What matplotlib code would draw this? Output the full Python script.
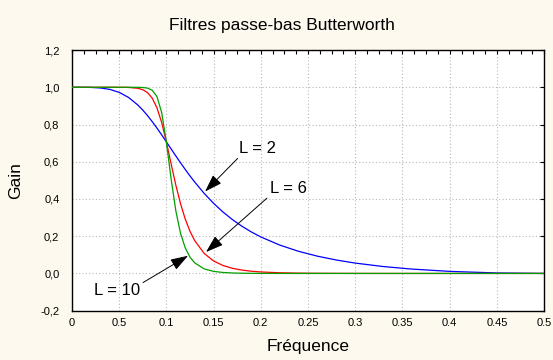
import matplotlib
matplotlib.use("Agg")
import matplotlib.pyplot as plt
from matplotlib.ticker import FixedLocator, MultipleLocator

plt.rcParams['font.family'] = ['Liberation Sans', 'DejaVu Sans']

freq = [0.0, 0.02, 0.03, 0.04, 0.05, 0.06, 0.07, 0.075, 0.08, 0.085, 0.09, 0.095,
        0.1, 0.105, 0.11, 0.115, 0.12, 0.125, 0.13, 0.14, 0.15, 0.16, 0.17, 0.18,
        0.19, 0.2, 0.22, 0.24, 0.26, 0.28, 0.3, 0.33, 0.36, 0.4, 0.45, 0.5]

gain_L2 = [1.0, 0.9993, 0.9964, 0.9888, 0.9729, 0.9454, 0.9039, 0.8777, 0.8482, 0.8158,
           0.7811, 0.7446, 0.7071, 0.6692, 0.6315, 0.5945, 0.5586, 0.5241, 0.4912,
           0.4304, 0.3767, 0.3298, 0.2890, 0.2536, 0.2229, 0.1961, 0.1525, 0.1189,
           0.0927, 0.0721, 0.0556, 0.0369, 0.0234, 0.0111, 0.0026, 0.0]

gain_L6 = [1.0, 1.0, 1.0, 1.0, 0.9999, 0.9992, 0.9944, 0.9870, 0.9716, 0.9421,
           0.8904, 0.8115, 0.7071, 0.5899, 0.4754, 0.3748, 0.2922, 0.2269, 0.1765,
           0.1078, 0.0671, 0.0426, 0.0275, 0.0180, 0.0119, 0.0080, 0.0037, 0.0017,
           0.0008, 0.0004, 0.0002, 0.0, 0.0, 0.0, 0.0, 0.0]

gain_L10 = [1.0, 1.0, 1.0, 1.0, 1.0, 1.0, 0.9997, 0.9988, 0.9955, 0.9844,
            0.9506, 0.8654, 0.7071, 0.5097, 0.3375, 0.2158, 0.1373, 0.0879, 0.0569,
            0.0246, 0.0111, 0.0052, 0.0025, 0.0012, 0.0006, 0.0003, 0.0, 0.0,
            0.0, 0.0, 0.0, 0.0, 0.0, 0.0, 0.0, 0.0]

x_ticks = [0, 0.05, 0.1, 0.15, 0.2, 0.25, 0.3, 0.35, 0.4, 0.45, 0.5]
x_tick_labels = ["0", "0.5", "0.1", "0.15", "0.2", "0.25", "0.3", "0.35", "0.4", "0.45", "0.5"]
y_ticks = [-0.2, 0.0, 0.2, 0.4, 0.6, 0.8, 1.0, 1.2]
y_tick_labels = ["-0,2", "0,0", "0,2", "0,4", "0,6", "0,8", "1,0", "1,2"]

bg = '#FEF9EE'
fig = plt.figure(figsize=(5.53, 3.60), dpi=100, facecolor=bg)
ax = fig.add_axes([0.130, 0.137, 0.854, 0.724])
ax.set_facecolor('white')

ax.plot(freq, gain_L2, color='#0000FF', lw=0.9, zorder=3)
ax.plot(freq, gain_L6, color='#FF0000', lw=0.9, zorder=4)
ax.plot(freq, gain_L10, color='#00A000', lw=0.9, zorder=5)

ax.set_xlim(0, 0.5)
ax.set_ylim(-0.2, 1.2)
ax.xaxis.set_major_locator(FixedLocator(x_ticks))
ax.set_xticklabels(x_tick_labels)
ax.yaxis.set_major_locator(FixedLocator(y_ticks))
ax.set_yticklabels(y_tick_labels)
ax.xaxis.set_minor_locator(MultipleLocator(0.0125))

ax.grid(True, which='major', color='#B8B8B8', linestyle=(0, (1, 2)), lw=0.8, zorder=1)
ax.tick_params(axis='x', which='both', direction='in', bottom=False, top=True,
               labelbottom=True, length=3, width=0.8, labelsize=8, pad=5)
ax.tick_params(axis='y', which='both', direction='in', left=False, right=True,
               labelleft=True, length=3, width=0.8, labelsize=8, pad=9)
for sp in ax.spines.values():
    sp.set_color('black')
    sp.set_linewidth(1.0)

fig.text(0.51, 0.928, "Filtres passe-bas Butterworth", fontsize=12.5,
         ha='center', va='center')
ax.set_xlabel("Fréquence", fontsize=12.5, labelpad=8)
ax.set_ylabel("Gain", fontsize=12.5, labelpad=12)

arrow = dict(arrowstyle='-|>,head_length=0.9,head_width=0.3', color='black',
             lw=0.7, shrinkA=0, shrinkB=0)
ax.annotate("L = 2", xy=(0.141, 0.44), xytext=(0.196, 0.673), fontsize=12,
            ha='center', va='center', arrowprops=dict(arrow, relpos=(0.05, 0.0)), zorder=6)
ax.annotate("L = 6", xy=(0.142, 0.115), xytext=(0.229, 0.458), fontsize=12,
            ha='center', va='center', arrowprops=dict(arrow, relpos=(0.0, 0.0)), zorder=6)
ax.annotate("L = 10", xy=(0.123, 0.095), xytext=(0.048, -0.09), fontsize=12,
            ha='center', va='center', arrowprops=dict(arrow, relpos=(1.0, 0.9)), zorder=6)

fig.savefig("out.png", dpi=100, facecolor=bg)
